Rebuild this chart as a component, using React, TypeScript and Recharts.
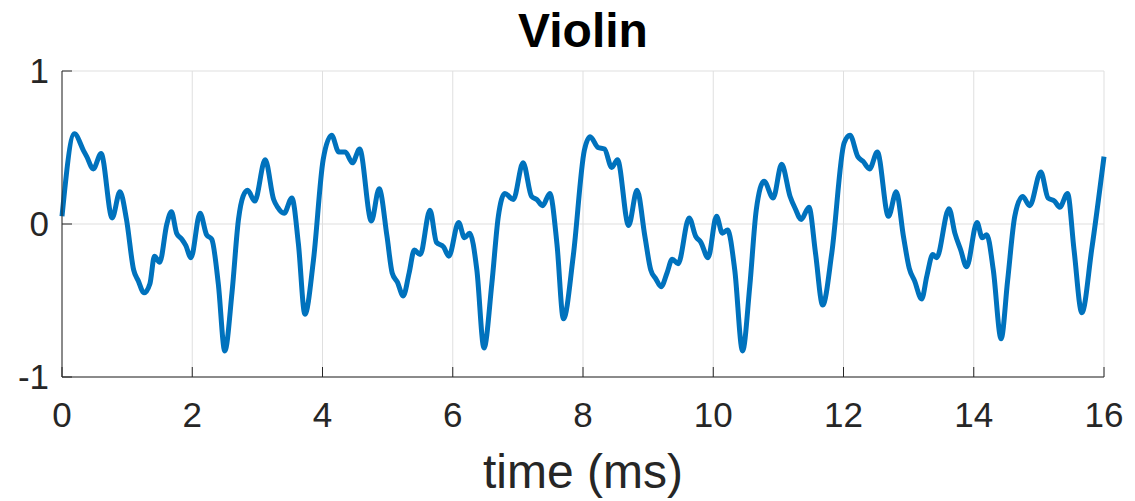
import { LineChart, Line, XAxis, YAxis, CartesianGrid } from 'recharts'

// waveform samples (time in ms, normalised amplitude)
const timeMs = [
  0, 0.19, 0.33, 0.38, 0.48, 0.6, 0.77, 0.89, 0.99, 1.1, 1.17, 1.26, 1.35, 1.42, 1.5, 1.61, 1.68, 1.76, 1.84, 1.9,
  1.98, 2.12, 2.22, 2.3, 2.4, 2.5, 2.61, 2.71, 2.78, 2.85, 2.96, 3.12, 3.25, 3.31, 3.41, 3.53, 3.63, 3.73, 3.86, 4.01,
  4.14, 4.25, 4.35, 4.46, 4.57, 4.75, 4.87, 4.99, 5.07, 5.15, 5.24, 5.33, 5.41, 5.5, 5.65, 5.75, 5.86, 5.94, 6.09, 6.18,
  6.26, 6.37, 6.48, 6.6, 6.7, 6.8, 6.93, 7.08, 7.21, 7.29, 7.38, 7.49, 7.6, 7.7, 7.85, 8.02,
  8.11, 8.23, 8.33, 8.44, 8.53, 8.7, 8.83, 8.95, 9.04, 9.12, 9.2, 9.29, 9.37, 9.46, 9.63, 9.73, 9.81, 9.92, 10.05, 10.14,
  10.22, 10.33, 10.45, 10.56, 10.66, 10.78, 10.92, 11.05, 11.18, 11.26, 11.35, 11.47, 11.57, 11.68, 11.82, 12.01,
  12.1, 12.22, 12.3, 12.4, 12.52, 12.69, 12.81, 12.92, 13.01, 13.09, 13.2, 13.28, 13.37, 13.43, 13.62, 13.71, 13.8, 13.89,
  14.05, 14.13, 14.2, 14.3, 14.42, 14.52, 14.63, 14.75, 14.86, 15.03, 15.14, 15.24, 15.32, 15.44, 15.54, 15.66, 15.81, 16,
]

const amplitude = [
  0.05, 0.59, 0.48, 0.44, 0.36, 0.46, 0.04, 0.21, 0.03, -0.3, -0.37, -0.45, -0.39, -0.21, -0.25, 0.0, 0.08, -0.06, -0.1, -0.14,
  -0.22, 0.07, -0.07, -0.1, -0.39, -0.83, -0.45, 0.03, 0.18, 0.22, 0.15, 0.42, 0.16, 0.11, 0.07, 0.17, -0.13, -0.59, -0.24, 0.42,
  0.58, 0.47, 0.47, 0.4, 0.49, 0.02, 0.23, -0.08, -0.32, -0.38, -0.47, -0.32, -0.17, -0.2, 0.09, -0.12, -0.15, -0.21, 0.01, -0.09,
  -0.06, -0.3, -0.81, -0.39, 0.05, 0.2, 0.16, 0.4, 0.18, 0.16, 0.12, 0.2, -0.13, -0.62, -0.21, 0.48,
  0.57, 0.5, 0.49, 0.37, 0.42, -0.01, 0.22, -0.08, -0.3, -0.36, -0.41, -0.32, -0.23, -0.26, 0.04, -0.08, -0.12, -0.22, 0.05, -0.06,
  -0.04, -0.3, -0.83, -0.41, 0.09, 0.28, 0.17, 0.39, 0.18, 0.1, 0.03, 0.11, -0.19, -0.53, -0.19, 0.53,
  0.58, 0.44, 0.41, 0.36, 0.47, 0.05, 0.21, -0.08, -0.29, -0.37, -0.49, -0.34, -0.2, -0.22, 0.1, -0.06, -0.17, -0.28,
  0.01, -0.09, -0.07, -0.3, -0.75, -0.37, 0.05, 0.18, 0.12, 0.34, 0.17, 0.15, 0.11, 0.2, -0.17, -0.58, -0.17, 0.44,
]

const xTicks = [0, 2, 4, 6, 8, 10, 12, 14, 16]
const yTicks = [-1, 0, 1]

const data = timeMs.map((t, i) => ({ t, y: amplitude[i] }))

const font = '"Liberation Sans", Arial, sans-serif'
const axisColor = '#262626'
const tickStyle = { fontFamily: font, fontSize: 35, fill: axisColor }

export default function App() {
  return (
    <div style={{ position: 'absolute', left: 0, top: 0, width: 1135, height: 501, background: '#fff' }}>
      <div
        style={{
          position: 'absolute',
          left: 62,
          width: 1042,
          top: 3,
          textAlign: 'center',
          fontFamily: font,
          fontWeight: 'bold',
          fontSize: 48,
          color: '#000',
        }}
      >
        Violin
      </div>
      <LineChart width={1135} height={501} data={data} margin={{ top: 71, right: 31, bottom: 0, left: 0 }}>
        <CartesianGrid xAxisId="bottom" yAxisId="left" stroke="#dfdfdf" strokeWidth={1} />
        <XAxis
          xAxisId="bottom"
          dataKey="t"
          type="number"
          domain={[0, 16]}
          ticks={xTicks}
          height={124}
          stroke={axisColor}
          tickSize={-10}
          tickMargin={35}
          tick={tickStyle}
          label={{ value: 'time (ms)', position: 'insideBottom', offset: 13, style: { fontFamily: font, fontSize: 48, fill: axisColor } }}
        />
        <XAxis
          xAxisId="top"
          orientation="top"
          dataKey="t"
          type="number"
          domain={[0, 16]}
          ticks={xTicks}
          height={0}
          stroke={axisColor}
          tickSize={-10}
          tick={false}
        />
        <YAxis
          yAxisId="left"
          type="number"
          domain={[-1, 1]}
          ticks={yTicks}
          width={62}
          stroke={axisColor}
          tickSize={-10}
          tickMargin={23}
          tick={tickStyle}
        />
        <YAxis
          yAxisId="right"
          orientation="right"
          type="number"
          domain={[-1, 1]}
          ticks={yTicks}
          width={0}
          stroke={axisColor}
          tickSize={-10}
          tick={false}
        />
        <Line
          xAxisId="bottom"
          yAxisId="left"
          type="monotone"
          dataKey="y"
          stroke="#0072bd"
          strokeWidth={5}
          dot={false}
          isAnimationActive={false}
        />
      </LineChart>
    </div>
  )
}
